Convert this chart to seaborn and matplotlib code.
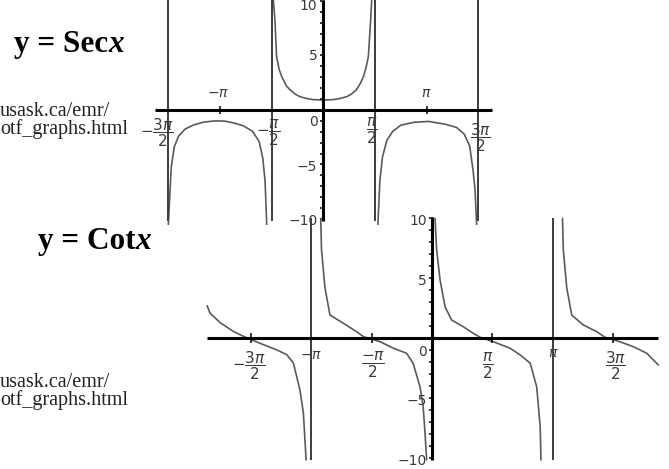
import numpy as np
import pandas as pd
import matplotlib
matplotlib.use("Agg")
import matplotlib.pyplot as plt
import seaborn as sns

# ---- y = sec x : branch vertices (x in radians) ----
sec_left_x = [-4.71, -4.62, -4.53, -4.40, -4.20, -3.95, -3.65, -3.30, -3.00,
              -2.70, -2.43, -2.15, -1.95, -1.84, -1.77, -1.72]
sec_left_y = [-10.5, -5.2, -3.4, -2.4, -1.75, -1.38, -1.12, -1.0, -1.02,
              -1.2, -1.45, -1.95, -2.9, -4.4, -6.5, -10.5]
sec_mid_x = [-1.53, -1.47, -1.42, -1.34, -1.26, -1.12, -1.00, -0.85, -0.71,
             -0.50, -0.30, 0.00, 0.30, 0.50, 0.71, 0.85, 1.00, 1.12, 1.22,
             1.30, 1.37, 1.44, 1.48]
sec_mid_y = [10.5, 8.3, 4.9, 3.7, 3.05, 2.2, 1.83, 1.45, 1.22, 1.05, 0.95,
             0.92, 0.95, 1.05, 1.22, 1.45, 1.83, 2.4, 3.05, 3.9, 4.9, 8.3, 10.5]
sec_right_x = [1.66, 1.72, 1.80, 1.93, 2.10, 2.35, 2.75, 3.20, 3.70, 4.05,
               4.28, 4.45, 4.55, 4.61, 4.66]
sec_right_y = [-10.5, -6.5, -4.3, -2.8, -2.0, -1.4, -1.13, -1.05, -1.3, -1.6,
               -2.2, -3.3, -5.5, -7.2, -10.5]
sec_breaks = [-4.712, -1.571, 1.571, 4.712]

# ---- y = cot x : branch vertices ----
cot_a_x = [-5.84, -5.77, -5.51, -5.16, -4.90, -4.47, -4.03, -3.77, -3.60,
           -3.43, -3.34, -3.27]
cot_a_y = [2.7, 2.1, 1.3, 0.55, 0.14, -0.44, -1.0, -1.4, -2.1, -4.35, -6.3, -10.2]
cot_b_x = [-2.89, -2.87, -2.78, -2.65, -2.30, -1.96, -1.78, -1.35, -1.00,
           -0.66, -0.49, -0.31, -0.23, -0.18, -0.14]
cot_b_y = [10.0, 7.4, 4.2, 1.92, 1.23, 0.53, 0.11, -0.31, -0.86, -1.28,
           -2.12, -4.1, -5.7, -8.0, -10.2]
cot_c_x = [0.08, 0.12, 0.21, 0.34, 0.51, 0.81, 1.07, 1.25, 1.59, 2.03, 2.29,
           2.55, 2.72, 2.81, 2.83]
cot_c_y = [10.0, 7.4, 4.85, 2.6, 1.5, 0.95, 0.39, 0.06, -0.31, -0.86, -1.42,
           -2.1, -4.1, -7.4, -10.2]
cot_d_x = [3.39, 3.41, 3.50, 3.63, 3.93, 4.28, 4.49, 4.88, 5.23, 5.58, 5.88]
cot_d_y = [10.0, 7.4, 4.2, 1.92, 1.09, 0.53, 0.06, -0.31, -0.73, -1.28, -2.26]
cot_breaks = [-3.1416, 3.1416]

# ---- tick labels ----
sec_xtick_vals = [-4.712, -3.1416, -1.571, 1.571, 3.1416, 4.712]
sec_xtick_labels = [r"$-\dfrac{3\pi}{2}$", r"$-\pi$", r"$-\dfrac{\pi}{2}$",
                    r"$\dfrac{\pi}{2}$", r"$\pi$", r"$\dfrac{3\pi}{2}$"]
cot_xtick_vals = [-4.712, -3.1416, -1.571, 1.571, 3.1416, 4.712]
cot_xtick_labels = [r"$-\dfrac{3\pi}{2}$", r"$-\pi$", r"$\dfrac{-\pi}{2}$",
                    r"$\dfrac{\pi}{2}$", r"$\pi$", r"$\dfrac{3\pi}{2}$"]
ytick_vals = [-10, -5, 5, 10]
ytick_labels = ["\u221210", "\u22125", "5", "10"]
source_lines = ["usask.ca/emr/", "otf_graphs.html"]

sns.set_style("white")
plt.rcParams["font.family"] = ["DejaVu Sans"]
plt.rcParams["mathtext.fontset"] = "dejavusans"

W, H = 669, 469
fig = plt.figure(figsize=(W / 100, H / 100), dpi=100)

def px_axes(x0, y0, x1, y1):
    ax = fig.add_axes([x0 / W, 1 - y1 / H, (x1 - x0) / W, (y1 - y0) / H])
    ax.set_axis_off()
    ax.patch.set_alpha(0)
    return ax

CURVE = "#5a5a5a"
BREAK = "#3c3c3c"
LABEL = "#3a3a3a"
TICK_FS = 10
FRAC_FS = 11

def branches(pairs):
    frames = []
    for i, (xs, ys) in enumerate(pairs):
        frames.append(pd.DataFrame({"x": xs, "y": ys, "branch": i}))
    return pd.concat(frames, ignore_index=True)

def maple_axes(ax, xspan, yspan, xtick_marks, xt_half, yt_left, yt_right):
    ax.plot(xspan, [0, 0], color="black", lw=2.2, solid_capstyle="butt", zorder=4)
    ax.plot([0, 0], yspan, color="black", lw=2.2, solid_capstyle="butt", zorder=4)
    ticks = [v for v in range(-10, 11) if v != 0]
    ax.hlines(ticks, -yt_left, yt_right, color="black", lw=1.1, zorder=4)
    ax.vlines(xtick_marks, -xt_half, xt_half, color="black", lw=1.1, zorder=4)

def lab(ax, text, xv, yv, dx, dy, ha="center", size=TICK_FS):
    ax.annotate(text, xy=(xv, yv), xytext=(dx, dy), textcoords="offset pixels",
                ha=ha, va="center", fontsize=size, color=LABEL, zorder=5,
                annotation_clip=False)

def tick_size(t):
    return FRAC_FS if "frac" in t else TICK_FS

# ================= sec plot =================
ax1 = px_axes(140, 0, 500, 225)
ax1.set_xlim(-5.571, 5.371)
ax1.set_ylim(-10.55, 10.09)
sec_df = branches([(sec_left_x, sec_left_y), (sec_mid_x, sec_mid_y),
                   (sec_right_x, sec_right_y)])
sns.lineplot(data=sec_df, x="x", y="y", units="branch", estimator=None,
             sort=False, color=CURVE, lw=1.2, ax=ax1, legend=False)
ax1.vlines(sec_breaks, -10.15, 10.2, color=BREAK, lw=1.4, zorder=3)
maple_axes(ax1, [-5.12, 5.13], [-10.15, 10.0], [-3.1416, 3.1416], 0.37, 0.09, 0.06)

sec_offsets = [(-11, -23), (-2, 17), (-3, -23), (-3, -21), (0, 17), (2, -28)]
for v, t, (dx, dy) in zip(sec_xtick_vals, sec_xtick_labels, sec_offsets):
    lab(ax1, t, v, 0, dx, dy, size=tick_size(t))
lab(ax1, "0", 0, 0, -10, -12)
for v, t, dy in zip(ytick_vals, ytick_labels, [-2, -3, -1, -5]):
    lab(ax1, t, 0, v, -6, dy, ha="right")

# ================= cot plot =================
ax2 = px_axes(200, 212, 669, 469)
ax2.set_xlim(-6.026, 6.156)
ax2.set_ylim(-10.96, 10.54)
cot_df = branches([(cot_a_x, cot_a_y), (cot_b_x, cot_b_y),
                   (cot_c_x, cot_c_y), (cot_d_x, cot_d_y)])
sns.lineplot(data=cot_df, x="x", y="y", units="branch", estimator=None,
             sort=False, color=CURVE, lw=1.2, ax=ax2, legend=False)
ax2.vlines(cot_breaks, -10.2, 10.0, color=BREAK, lw=1.4, zorder=3)
maple_axes(ax2, [-5.84, 5.87], [-10.2, 10.05], [-4.712, -1.571, 1.571, 4.712],
           0.42, 0.08, 0.05)

cot_offsets = [(-2, -28), (0, -17), (2, -27), (-5, -28), (0, -15), (2, -28)]
for v, t, (dx, dy) in zip(cot_xtick_vals, cot_xtick_labels, cot_offsets):
    lab(ax2, t, v, 0, dx, dy, size=tick_size(t))
lab(ax2, "0", 0, 0, -9, -14)
for v, t in zip(ytick_vals, ytick_labels):
    lab(ax2, t, 0, v, -5, -3, ha="right")

# ================= captions =================
renderer = fig.canvas.get_renderer()

def heading(x_px, base_px, word):
    t = fig.text(x_px / W, 1 - base_px / H, word, fontfamily="Liberation Serif",
                 fontweight="bold", fontsize=22.5, va="baseline", ha="left",
                 color="black")
    bb = t.get_window_extent(renderer)
    fig.text(bb.x1 / W, 1 - base_px / H, "x", fontfamily="Liberation Serif",
             fontweight="bold", fontstyle="italic", fontsize=22.5,
             va="baseline", ha="left", color="black")

heading(14, 52, "y = Sec")
heading(38, 249, "y = Cot")

def source(x_px, last_base_px):
    # two-line caption; anchored on the baseline of its last line
    fig.text(x_px / W, 1 - last_base_px / H, "\n".join(source_lines),
             fontfamily="Liberation Serif", fontsize=14.5, linespacing=0.87,
             va="baseline", ha="left", color="#222222")

source(0, 134)
source(0, 405)

fig.savefig("out.png", dpi=100, facecolor="white")
